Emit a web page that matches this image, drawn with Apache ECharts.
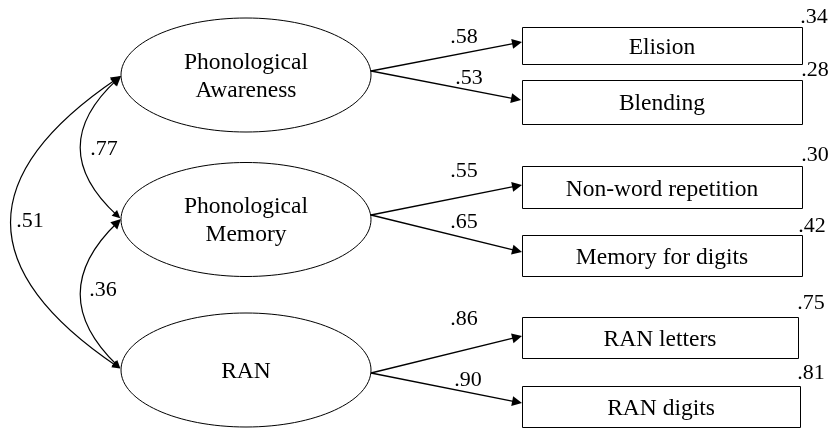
<!DOCTYPE html>
<html>
<head>
<meta charset="utf-8">
<script src="https://cdn.jsdelivr.net/npm/echarts@6/dist/echarts.min.js"></script>
<style>
html,body{margin:0;padding:0;background:#fff;}
#chart{width:833px;height:428px;}
</style>
</head>
<body>
<div id="chart"></div>
<script>
// ---- data ----
const latentNames = ['Phonological\nAwareness', 'Phonological\nMemory', 'RAN'];
const indicatorNames = ['Elision', 'Blending', 'Non-word repetition', 'Memory for digits', 'RAN letters', 'RAN digits'];
const indicatorFactor = [0, 0, 1, 1, 2, 2];
const loadings = ['.58', '.53', '.55', '.65', '.86', '.90'];
const residuals = ['.34', '.28', '.30', '.42', '.75', '.81'];
const corrPairs = [[0, 1], [1, 2], [0, 2]];
const correlations = ['.77', '.36', '.51'];

// ---- layout (pixel space of an 833x428 canvas) ----
const latentPos = [[246, 75], [246, 219.5], [246, 370]];
const latentRadius = [125, 57];
const latentOut = [[371, 71], [371, 215], [371, 373]];
const latentIn = [[121, 76], [121, 219], [121, 369]];
const boxPos = [[662, 45], [662, 101.5], [662, 187], [662, 255], [660, 337.8], [661, 406.5]];
const boxSize = [[280, 37], [280, 44], [280, 42], [280, 41], [276, 41], [278, 41]];
const arrowTip = [[522, 42], [521, 100], [522, 185], [522, 252], [522, 336], [522, 403]];
const loadingPos = [[464, 37], [469, 78], [464, 171], [464, 222], [464, 319], [468, 380]];
const residualPos = [[814, 17], [815, 70], [815, 155], [812, 226], [811, 303], [811, 373]];
const corrPos = [[104, 149], [103, 290], [30, 221]];
const corrCurve = [0.545, 0.52, 0.74];

const FONT = 'Liberation Serif';
const NAME_SIZE = 23.5;
const NUM_SIZE = 22;
const ARROW = [8, 10];

function shorten(from, to, d) {
  const dx = to[0] - from[0], dy = to[1] - from[1];
  const L = Math.hypot(dx, dy);
  return [to[0] - dx / L * d, to[1] - dy / L * d];
}

const loadingLines = indicatorNames.map((n, i) => {
  const s = latentOut[indicatorFactor[i]];
  return { coords: [s, shorten(s, arrowTip[i], ARROW[1] / 2)] };
});

const corrLines = corrPairs.map((p, i) => {
  const a = latentIn[p[1]], b = latentIn[p[0]];
  const c = corrCurve[i];
  const cp = [(a[0] + b[0]) / 2 - (a[1] - b[1]) * c, (a[1] + b[1]) / 2 - (b[0] - a[0]) * c];
  const a2 = shorten(cp, a, ARROW[1] / 2), b2 = shorten(cp, b, ARROW[1] / 2);
  return { coords: [a2, b2], lineStyle: { curveness: c } };
});

const textLabel = (arr, pos) => arr.map((t, i) => ({ value: pos[i], name: t }));

function latentItem(params, api) {
  const p = api.coord([api.value(0), api.value(1)]);
  const name = latentNames[params.dataIndex];
  return {
    type: 'group',
    children: [
      { type: 'ellipse', shape: { cx: p[0], cy: p[1], rx: latentRadius[0], ry: latentRadius[1] },
        style: { fill: '#fff', stroke: '#000', lineWidth: 1 } },
      { type: 'text', x: p[0], y: p[1] + 1.5,
        style: { text: name, fill: '#000', fontFamily: FONT, fontSize: NAME_SIZE, lineHeight: 28,
                 align: 'center', verticalAlign: 'middle' } }
    ]
  };
}

function boxItem(params, api) {
  const i = params.dataIndex;
  const p = api.coord([api.value(0), api.value(1)]);
  const w = boxSize[i][0], h = boxSize[i][1];
  const x = Math.round(p[0] - w / 2) + 0.5, y = Math.round(p[1] - h / 2) + 0.5;
  return {
    type: 'group',
    children: [
      { type: 'rect', shape: { x: x, y: y, width: w, height: h },
        style: { fill: '#fff', stroke: '#000', lineWidth: 1 } },
      { type: 'text', x: p[0], y: p[1] + 2.5,
        style: { text: indicatorNames[i], fill: '#000', fontFamily: FONT, fontSize: NAME_SIZE,
                 align: 'center', verticalAlign: 'middle' } }
    ]
  };
}

function numItem(params, api) {
  const p = api.coord([api.value(0), api.value(1)]);
  return {
    type: 'text', x: p[0], y: p[1],
    style: { text: numTexts[params.dataIndex].name, fill: '#000', fontFamily: FONT, fontSize: NUM_SIZE,
             align: 'center', verticalAlign: 'middle' }
  };
}

const numTexts = textLabel(loadings, loadingPos).concat(textLabel(residuals, residualPos), textLabel(correlations, corrPos));

const chart = echarts.init(document.getElementById('chart'), null, { renderer: 'canvas' });
chart.setOption({
  animation: false,
  backgroundColor: '#fff',
  grid: { left: 0, right: 0, top: 0, bottom: 0 },
  xAxis: { type: 'value', min: 0, max: 833, show: false },
  yAxis: { type: 'value', min: 0, max: 428, inverse: true, show: false },
  series: [
    {
      type: 'custom', clip: false, z: 2, renderItem: latentItem,
      data: latentPos
    },
    {
      type: 'custom', clip: false, z: 2, renderItem: boxItem,
      data: boxPos
    },
    {
      type: 'lines', coordinateSystem: 'cartesian2d', clip: false, z: 3,
      symbol: ['none', 'triangle'], symbolSize: ARROW,
      lineStyle: { color: '#000', width: 1.3, opacity: 1 },
      data: loadingLines
    },
    {
      type: 'lines', coordinateSystem: 'cartesian2d', clip: false, z: 3,
      symbol: ['triangle', 'triangle'], symbolSize: ARROW,
      lineStyle: { color: '#000', width: 1.2, opacity: 1 },
      data: corrLines
    },
    {
      type: 'custom', clip: false, z: 4, renderItem: numItem,
      data: numTexts.map(d => d.value)
    }
  ]
});
</script>
</body>
</html>
